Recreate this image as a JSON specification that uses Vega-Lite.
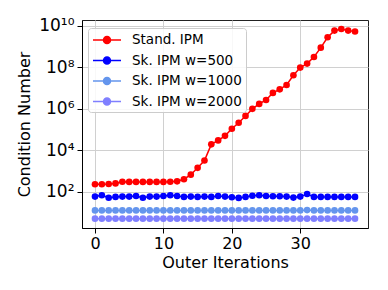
{
  "$schema": "https://vega.github.io/schema/vega-lite/v6.json",
  "autosize": "none",
  "width": 286,
  "height": 208,
  "padding": {"left": 82, "top": 20, "right": 20, "bottom": 62},
  "config": {
    "font": "DejaVu Sans",
    "view": {"stroke": "#222", "strokeWidth": 1}
  },
  "data": {"values": [
    {"x":0,"s":"Stand. IPM","v":229},{"x":1,"s":"Stand. IPM","v":229},{"x":2,"s":"Stand. IPM","v":234},{"x":3,"s":"Stand. IPM","v":251},{"x":4,"s":"Stand. IPM","v":302},{"x":5,"s":"Stand. IPM","v":295},{"x":6,"s":"Stand. IPM","v":295},{"x":7,"s":"Stand. IPM","v":295},{"x":8,"s":"Stand. IPM","v":295},{"x":9,"s":"Stand. IPM","v":295},{"x":10,"s":"Stand. IPM","v":295},{"x":11,"s":"Stand. IPM","v":302},{"x":12,"s":"Stand. IPM","v":316},{"x":13,"s":"Stand. IPM","v":398},{"x":14,"s":"Stand. IPM","v":661},{"x":15,"s":"Stand. IPM","v":1413},{"x":16,"s":"Stand. IPM","v":3162},{"x":17,"s":"Stand. IPM","v":19055},{"x":18,"s":"Stand. IPM","v":29512},{"x":19,"s":"Stand. IPM","v":48978},{"x":20,"s":"Stand. IPM","v":107152},{"x":21,"s":"Stand. IPM","v":208930},{"x":22,"s":"Stand. IPM","v":446684},{"x":23,"s":"Stand. IPM","v":977237},{"x":24,"s":"Stand. IPM","v":1698244},{"x":25,"s":"Stand. IPM","v":2630268},{"x":26,"s":"Stand. IPM","v":5754399},{"x":27,"s":"Stand. IPM","v":8511380},{"x":28,"s":"Stand. IPM","v":13803843},{"x":29,"s":"Stand. IPM","v":40738028},{"x":30,"s":"Stand. IPM","v":95499259},{"x":31,"s":"Stand. IPM","v":147910839},{"x":32,"s":"Stand. IPM","v":309029543},{"x":33,"s":"Stand. IPM","v":870963590},{"x":34,"s":"Stand. IPM","v":2754228703},{"x":35,"s":"Stand. IPM","v":5754399373},{"x":36,"s":"Stand. IPM","v":6918309709},{"x":37,"s":"Stand. IPM","v":5754399373},{"x":38,"s":"Stand. IPM","v":5248074602},
    {"x":0,"s":"Sk. IPM w=500","v":58},{"x":1,"s":"Sk. IPM w=500","v":67},{"x":2,"s":"Sk. IPM w=500","v":51},{"x":3,"s":"Sk. IPM w=500","v":56},{"x":4,"s":"Sk. IPM w=500","v":58},{"x":5,"s":"Sk. IPM w=500","v":58},{"x":6,"s":"Sk. IPM w=500","v":62},{"x":7,"s":"Sk. IPM w=500","v":51},{"x":8,"s":"Sk. IPM w=500","v":58},{"x":9,"s":"Sk. IPM w=500","v":58},{"x":10,"s":"Sk. IPM w=500","v":62},{"x":11,"s":"Sk. IPM w=500","v":67},{"x":12,"s":"Sk. IPM w=500","v":62},{"x":13,"s":"Sk. IPM w=500","v":56},{"x":14,"s":"Sk. IPM w=500","v":58},{"x":15,"s":"Sk. IPM w=500","v":56},{"x":16,"s":"Sk. IPM w=500","v":58},{"x":17,"s":"Sk. IPM w=500","v":56},{"x":18,"s":"Sk. IPM w=500","v":62},{"x":19,"s":"Sk. IPM w=500","v":58},{"x":20,"s":"Sk. IPM w=500","v":54},{"x":21,"s":"Sk. IPM w=500","v":50},{"x":22,"s":"Sk. IPM w=500","v":56},{"x":23,"s":"Sk. IPM w=500","v":64},{"x":24,"s":"Sk. IPM w=500","v":67},{"x":25,"s":"Sk. IPM w=500","v":62},{"x":26,"s":"Sk. IPM w=500","v":60},{"x":27,"s":"Sk. IPM w=500","v":60},{"x":28,"s":"Sk. IPM w=500","v":58},{"x":29,"s":"Sk. IPM w=500","v":52},{"x":30,"s":"Sk. IPM w=500","v":58},{"x":31,"s":"Sk. IPM w=500","v":77},{"x":32,"s":"Sk. IPM w=500","v":56},{"x":33,"s":"Sk. IPM w=500","v":56},{"x":34,"s":"Sk. IPM w=500","v":56},{"x":35,"s":"Sk. IPM w=500","v":56},{"x":36,"s":"Sk. IPM w=500","v":56},{"x":37,"s":"Sk. IPM w=500","v":56},{"x":38,"s":"Sk. IPM w=500","v":56},
    {"x":0,"s":"Sk. IPM w=1000","v":12.5},{"x":1,"s":"Sk. IPM w=1000","v":12.5},{"x":2,"s":"Sk. IPM w=1000","v":12.5},{"x":3,"s":"Sk. IPM w=1000","v":12.5},{"x":4,"s":"Sk. IPM w=1000","v":12.5},{"x":5,"s":"Sk. IPM w=1000","v":12.5},{"x":6,"s":"Sk. IPM w=1000","v":12.5},{"x":7,"s":"Sk. IPM w=1000","v":12.5},{"x":8,"s":"Sk. IPM w=1000","v":12.5},{"x":9,"s":"Sk. IPM w=1000","v":12.5},{"x":10,"s":"Sk. IPM w=1000","v":12.5},{"x":11,"s":"Sk. IPM w=1000","v":12.5},{"x":12,"s":"Sk. IPM w=1000","v":12.5},{"x":13,"s":"Sk. IPM w=1000","v":12.5},{"x":14,"s":"Sk. IPM w=1000","v":12.5},{"x":15,"s":"Sk. IPM w=1000","v":12.5},{"x":16,"s":"Sk. IPM w=1000","v":12.5},{"x":17,"s":"Sk. IPM w=1000","v":12.5},{"x":18,"s":"Sk. IPM w=1000","v":12.5},{"x":19,"s":"Sk. IPM w=1000","v":12.5},{"x":20,"s":"Sk. IPM w=1000","v":12.5},{"x":21,"s":"Sk. IPM w=1000","v":12.5},{"x":22,"s":"Sk. IPM w=1000","v":12.5},{"x":23,"s":"Sk. IPM w=1000","v":12.5},{"x":24,"s":"Sk. IPM w=1000","v":12.5},{"x":25,"s":"Sk. IPM w=1000","v":12.5},{"x":26,"s":"Sk. IPM w=1000","v":12.5},{"x":27,"s":"Sk. IPM w=1000","v":12.5},{"x":28,"s":"Sk. IPM w=1000","v":12.5},{"x":29,"s":"Sk. IPM w=1000","v":12.5},{"x":30,"s":"Sk. IPM w=1000","v":12.5},{"x":31,"s":"Sk. IPM w=1000","v":13},{"x":32,"s":"Sk. IPM w=1000","v":12.5},{"x":33,"s":"Sk. IPM w=1000","v":12.5},{"x":34,"s":"Sk. IPM w=1000","v":12.5},{"x":35,"s":"Sk. IPM w=1000","v":12.5},{"x":36,"s":"Sk. IPM w=1000","v":12.5},{"x":37,"s":"Sk. IPM w=1000","v":12.5},{"x":38,"s":"Sk. IPM w=1000","v":12.5},
    {"x":0,"s":"Sk. IPM w=2000","v":5},{"x":1,"s":"Sk. IPM w=2000","v":5},{"x":2,"s":"Sk. IPM w=2000","v":5},{"x":3,"s":"Sk. IPM w=2000","v":5},{"x":4,"s":"Sk. IPM w=2000","v":5},{"x":5,"s":"Sk. IPM w=2000","v":5},{"x":6,"s":"Sk. IPM w=2000","v":5},{"x":7,"s":"Sk. IPM w=2000","v":5},{"x":8,"s":"Sk. IPM w=2000","v":5},{"x":9,"s":"Sk. IPM w=2000","v":5},{"x":10,"s":"Sk. IPM w=2000","v":5},{"x":11,"s":"Sk. IPM w=2000","v":5},{"x":12,"s":"Sk. IPM w=2000","v":5},{"x":13,"s":"Sk. IPM w=2000","v":5},{"x":14,"s":"Sk. IPM w=2000","v":5},{"x":15,"s":"Sk. IPM w=2000","v":5},{"x":16,"s":"Sk. IPM w=2000","v":5},{"x":17,"s":"Sk. IPM w=2000","v":5},{"x":18,"s":"Sk. IPM w=2000","v":5},{"x":19,"s":"Sk. IPM w=2000","v":5},{"x":20,"s":"Sk. IPM w=2000","v":5},{"x":21,"s":"Sk. IPM w=2000","v":5},{"x":22,"s":"Sk. IPM w=2000","v":5},{"x":23,"s":"Sk. IPM w=2000","v":5},{"x":24,"s":"Sk. IPM w=2000","v":5},{"x":25,"s":"Sk. IPM w=2000","v":5},{"x":26,"s":"Sk. IPM w=2000","v":5},{"x":27,"s":"Sk. IPM w=2000","v":5},{"x":28,"s":"Sk. IPM w=2000","v":5},{"x":29,"s":"Sk. IPM w=2000","v":5},{"x":30,"s":"Sk. IPM w=2000","v":5},{"x":31,"s":"Sk. IPM w=2000","v":5},{"x":32,"s":"Sk. IPM w=2000","v":5},{"x":33,"s":"Sk. IPM w=2000","v":5},{"x":34,"s":"Sk. IPM w=2000","v":5},{"x":35,"s":"Sk. IPM w=2000","v":5},{"x":36,"s":"Sk. IPM w=2000","v":5},{"x":37,"s":"Sk. IPM w=2000","v":5},{"x":38,"s":"Sk. IPM w=2000","v":5}
  ]},
  "encoding": {
    "x": {
      "field": "x", "type": "quantitative",
      "scale": {"domain": [-1.9, 39.9], "nice": false, "zero": false},
      "axis": {
        "title": "Outer Iterations", "values": [0, 10, 20, 30],
        "labelFontSize": 16, "titleFontSize": 16, "titleFontWeight": "normal",
        "labelColor": "#000", "titleColor": "#000",
        "domainColor": "#000", "tickColor": "#000", "tickSize": 5,
        "gridColor": "#d0d0d0", "gridWidth": 1, "labelPadding": 2, "titlePadding": 3
      }
    },
    "y": {
      "field": "v", "type": "quantitative",
      "scale": {"type": "log", "domain": [1.78, 1.87e10], "nice": false},
      "axis": {
        "title": "Condition Number", "values": [100, 10000, 1000000, 100000000, 10000000000],
        "labelExpr": "datum.value < 1e3 ? '10²' : datum.value < 1e5 ? '10⁴' : datum.value < 1e7 ? '10⁶' : datum.value < 1e9 ? '10⁸' : '10¹⁰'",
        "labelFontSize": 17, "titleFontSize": 16, "titleFontWeight": "normal",
        "labelColor": "#000", "titleColor": "#000",
        "domainColor": "#000", "tickColor": "#000", "tickSize": 5,
        "gridColor": "#d0d0d0", "gridWidth": 1, "labelPadding": 3, "titlePadding": 6
      }
    },
    "color": {
      "field": "s", "type": "nominal",
      "scale": {
        "domain": ["Stand. IPM", "Sk. IPM w=500", "Sk. IPM w=1000", "Sk. IPM w=2000"],
        "range": ["#ff0000", "#0000ff", "#6495ed", "#7f7fff"]
      },
      "legend": {
        "title": null, "orient": "none", "legendX": 6, "legendY": 8,
        "symbolType": "M-1,0L3,0M0.5,0A0.5,0.5,0,1,1,1.5,0A0.5,0.5,0,1,1,0.5,0Z",
        "symbolSize": 196, "symbolStrokeWidth": 1.5,
        "labelFontSize": 13.5, "labelColor": "#000", "labelOffset": 24,
        "rowPadding": 5.5, "padding": 4,
        "strokeColor": "#cccccc", "fillColor": "rgba(255,255,255,0.85)", "cornerRadius": 3,
        "encode": {"symbols": {"update": {"fill": {"scale": "color", "field": "value"}, "fillOpacity": {"value": 1}}}}
      }
    }
  },
  "layer": [
    {"mark": {"type": "line", "strokeWidth": 1.5}},
    {"mark": {"type": "point", "filled": true, "size": 44, "opacity": 1, "shape": "circle"}}
  ]
}
